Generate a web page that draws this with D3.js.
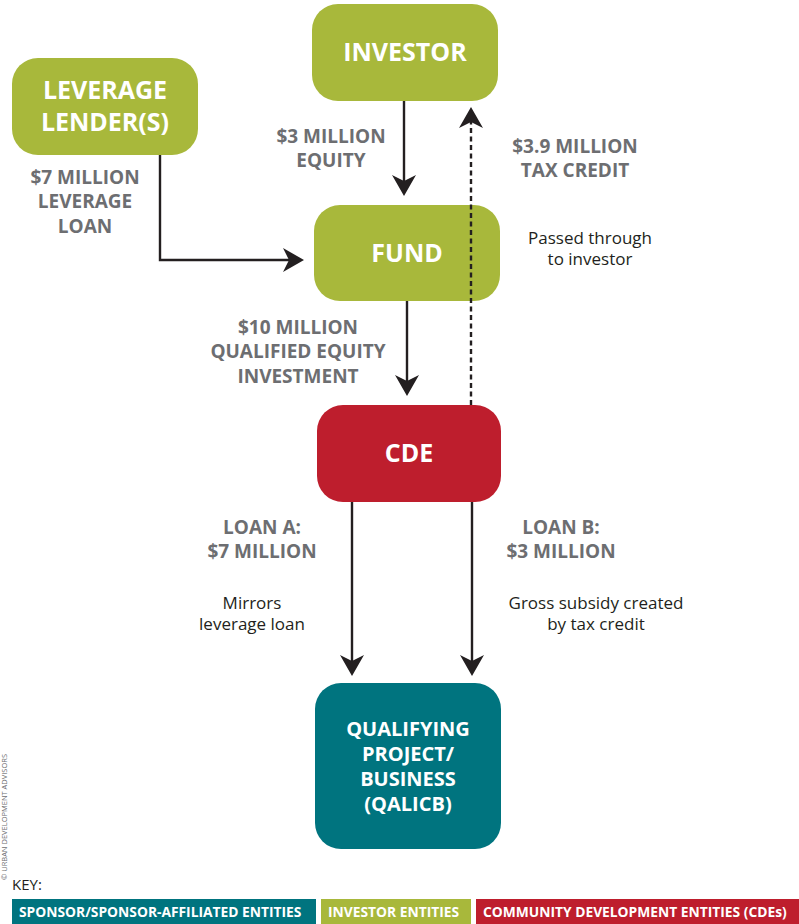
<!DOCTYPE html>
<html>
<head>
<meta charset="utf-8">
<script src="https://cdn.jsdelivr.net/npm/d3@7"></script>
<style>
  body { margin: 0; background: #fff; }
  svg { display: block; font-family: "Open Sans", "Noto Sans", sans-serif; }
</style>
</head>
<body>
<div id="chart"></div>
<script>
// New Markets Tax Credit leverage structure flow diagram

// entity boxes: id, text lines, category
const boxIds = ["investor", "lender", "fund", "cde", "qalicb"];
const boxLines = [
  ["INVESTOR"],
  ["LEVERAGE", "LENDER(S)"],
  ["FUND"],
  ["CDE"],
  ["QUALIFYING", "PROJECT/", "BUSINESS", "(QALICB)"]
];
const boxCategory = ["investor", "investor", "investor", "cde", "sponsor"];

// flow labels (bold amounts) and notes (regular)
const amountLabels = [
  ["$3 MILLION", "EQUITY"],
  ["$3.9 MILLION", "TAX CREDIT"],
  ["$7 MILLION", "LEVERAGE", "LOAN"],
  ["$10 MILLION", "QUALIFIED EQUITY", "INVESTMENT"],
  ["LOAN A:", "$7 MILLION"],
  ["LOAN B:", "$3 MILLION"]
];
const noteLabels = [
  ["Passed through", "to investor"],
  ["Mirrors", "leverage loan"],
  ["Gross subsidy created", "by tax credit"]
];

// key
const keyNames = ["SPONSOR/SPONSOR-AFFILIATED ENTITIES", "INVESTOR ENTITIES", "COMMUNITY DEVELOPMENT ENTITIES (CDEs)"];
const keyCategory = ["sponsor", "investor", "cde"];

// styling
const colors = { investor: "#a8b83b", cde: "#be1e2d", sponsor: "#00747f" };
const grey = "#6d6e71";
const ink = "#231f20";

const W = 799, H = 924;
const svg = d3.select("#chart").append("svg").attr("width", W).attr("height", H);

// box geometry (layout only)
const boxGeom = {
  investor: {x: 312, y: 4, w: 186, h: 97},
  lender:   {x: 12,  y: 58, w: 186, h: 97},
  fund:     {x: 314, y: 205, w: 186, h: 96},
  cde:      {x: 317, y: 405, w: 184, h: 97},
  qalicb:   {x: 315, y: 683, w: 186, h: 166}
};

// draw boxes
boxIds.forEach((id, i) => {
  const g = boxGeom[id];
  svg.append("rect")
    .attr("x", g.x).attr("y", g.y)
    .attr("width", g.w).attr("height", g.h)
    .attr("rx", 26).attr("ry", 26)
    .attr("fill", colors[boxCategory[i]]);
  const lines = boxLines[i];
  const fs = lines.length > 2 ? 20 : 25;
  const lh = lines.length > 2 ? 25 : 32;
  const cy = g.y + g.h / 2;
  svg.append("text")
    .attr("text-anchor", "middle")
    .attr("fill", "#fff")
    .attr("font-weight", "bold")
    .attr("font-size", fs)
    .selectAll("tspan")
    .data(lines)
    .enter().append("tspan")
      .attr("x", g.x + g.w / 2)
      .attr("y", (d, j) => cy + (j - (lines.length - 1) / 2) * lh)
      .attr("dy", "0.35em")
      .text(d => d);
});

// arrowhead (barbed)
function arrowHead(x, y, angle) {
  svg.append("path")
    .attr("d", "M0,0 L-21,-12 L-15,0 L-21,12 Z")
    .attr("transform", `translate(${x},${y}) rotate(${angle})`)
    .attr("fill", ink);
}

// connectors: points list, dashed flag
const connectors = [
  {pts: [[404, 101], [404, 196]], dash: false},
  {pts: [[160, 155], [160, 260], [304, 260]], dash: false},
  {pts: [[407, 301], [407, 396]], dash: false},
  {pts: [[352, 502], [352, 676]], dash: false},
  {pts: [[472, 502], [472, 676]], dash: false},
  {pts: [[471, 405], [471, 107]], dash: true}
];
const line = d3.line();
connectors.forEach(c => {
  const n = c.pts.length;
  const [x1, y1] = c.pts[n - 2], [x2, y2] = c.pts[n - 1];
  const ang = Math.atan2(y2 - y1, x2 - x1) * 180 / Math.PI;
  const len = Math.hypot(x2 - x1, y2 - y1);
  const shortPts = c.pts.slice();
  shortPts[n - 1] = [x2 - (x2 - x1) / len * 14, y2 - (y2 - y1) / len * 14];
  svg.append("path")
    .attr("d", line(shortPts))
    .attr("fill", "none")
    .attr("stroke", ink)
    .attr("stroke-width", 2.4)
    .attr("stroke-dasharray", c.dash ? "5,3.5" : null);
  arrowHead(x2, y2, ang);
});

// label positions (centre x, first line centre y)
const amountPos = [[331, 136], [575, 146], [85, 177], [298, 327], [262, 527], [561, 527]];
const notePos = [[590, 238], [252, 603], [596, 603]];

function multiText(lines, pos, opts) {
  svg.append("text")
    .attr("text-anchor", "middle")
    .attr("fill", opts.fill)
    .attr("font-weight", opts.weight)
    .attr("font-size", opts.size)
    .selectAll("tspan")
    .data(lines)
    .enter().append("tspan")
      .attr("x", pos[0])
      .attr("y", (d, j) => pos[1] + j * opts.lh)
      .attr("dy", "0.35em")
      .text(d => d);
}
amountLabels.forEach((l, i) => multiText(l, amountPos[i], {fill: grey, weight: "bold", size: 19, lh: 24.5}));
noteLabels.forEach((l, i) => multiText(l, notePos[i], {fill: ink, weight: "normal", size: 17, lh: 21}));

// key
svg.append("text")
  .attr("x", 12).attr("y", 890)
  .attr("fill", ink)
  .attr("font-size", 15)
  .text("KEY:");
const keyX = [12, 321, 476], keyW = [304, 150, 330];
keyNames.forEach((name, i) => {
  svg.append("rect")
    .attr("x", keyX[i]).attr("y", 899)
    .attr("width", keyW[i]).attr("height", 26)
    .attr("fill", colors[keyCategory[i]]);
  svg.append("text")
    .attr("x", keyX[i] + 7).attr("y", 912)
    .attr("dy", "0.35em")
    .attr("fill", "#fff")
    .attr("font-weight", "bold")
    .attr("font-size", 13.8)
    .text(name);
});

// side credit
svg.append("text")
  .attr("transform", "translate(7,880) rotate(-90)")
  .attr("fill", grey)
  .attr("font-size", 7.5)
  .text("© URBAN DEVELOPMENT ADVISORS");
</script>
</body>
</html>
